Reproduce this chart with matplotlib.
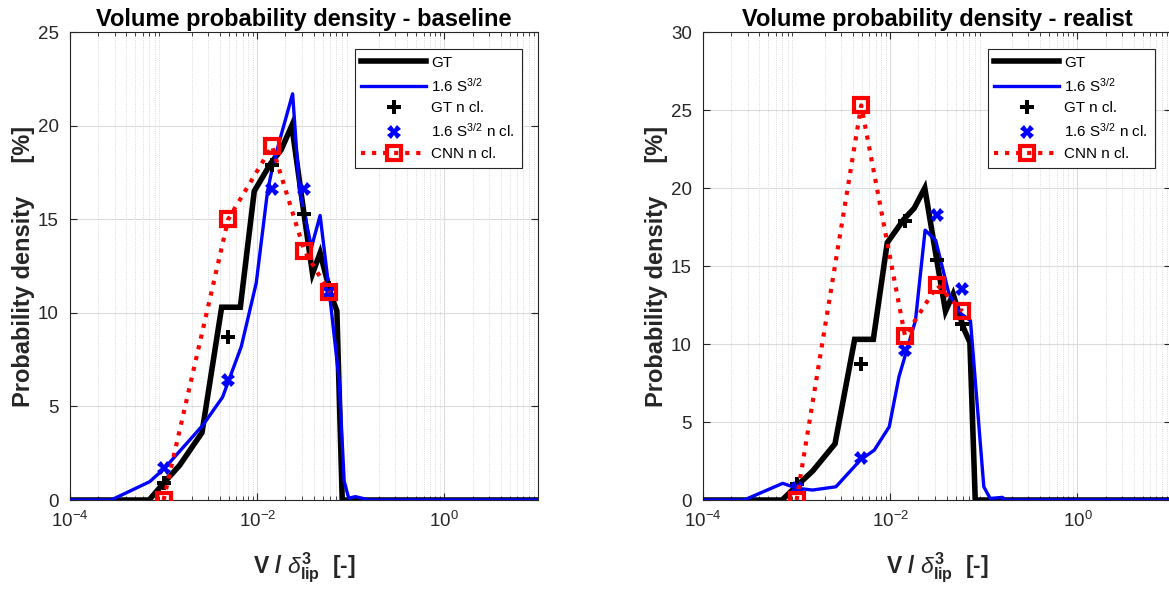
import numpy as np
import matplotlib
matplotlib.use("Agg")
import matplotlib.pyplot as plt
from matplotlib.ticker import LogLocator, NullFormatter

plt.rcParams["font.family"] = ["Liberation Sans", "DejaVu Sans"]
plt.rcParams["mathtext.fontset"] = "custom"
plt.rcParams["mathtext.rm"] = "Liberation Sans"
plt.rcParams["mathtext.it"] = "Liberation Sans:italic"
plt.rcParams["mathtext.bf"] = "Liberation Sans:bold"

# ----------------------------
# Data
# ----------------------------
# ground-truth volume pdf (same in both panels)
gt_v = [1e-4, 7.0e-4, 1.02e-3, 1.48e-3, 2.57e-3, 4.17e-3, 6.6e-3, 9.3e-3,
        1.4e-2, 1.8e-2, 2.34e-2, 3.16e-2, 3.9e-2, 4.7e-2, 6.1e-2, 7.1e-2,
        8.1e-2, 10.0]
gt_p = [0, 0, 0.95, 1.85, 3.6, 10.3, 10.3, 16.5, 18.0, 18.7, 20.0, 15.3,
        12.1, 13.2, 11.0, 10.1, 0, 0]

# 1.6 S^3/2 model - baseline
base_v = [1e-4, 2.75e-4, 7.1e-4, 1.02e-3, 2.63e-3, 4.27e-3, 6.76e-3, 9.77e-3,
          1.29e-2, 1.46e-2, 1.78e-2, 2.39e-2, 2.82e-2, 3.8e-2, 4.7e-2,
          5.9e-2, 7.5e-2, 8.5e-2, 9.5e-2, 1.12e-1, 1.58e-1, 10.0]
base_p = [0, 0, 0.98, 1.69, 4.0, 5.5, 8.2, 11.6, 16.5, 17.8, 19.4, 21.7,
          16.6, 13.5, 15.2, 11.1, 6.4, 1.0, 0.1, 0.18, 0, 0]

# 1.6 S^3/2 model - realist
real_v = [1e-4, 2.75e-4, 7.1e-4, 1.02e-3, 1.48e-3, 2.63e-3, 4.79e-3, 6.76e-3,
          9.77e-3, 1.24e-2, 1.86e-2, 2.36e-2, 3.06e-2, 4.25e-2, 5.66e-2,
          7.2e-2, 1.0e-1, 1.17e-1, 1.58e-1, 1.7e-1, 10.0]
real_p = [0, 0, 1.07, 0.75, 0.64, 0.85, 2.56, 3.2, 4.7, 7.9, 11.5, 17.3,
          16.65, 13.2, 11.96, 11.5, 0.85, 0.1, 0.17, 0, 0]

# number-of-classes samples
ncl_v = [1.0e-3, 4.9e-3, 1.44e-2, 3.2e-2, 5.9e-2]

gt_ncl = [0.89, 8.72, 17.9, 15.3, 11.3]
base_ncl = [1.69, 6.4, 16.6, 16.6, 11.1]
base_cnn = [0.0, 15.0, 18.9, 13.3, 11.1]

gt_ncl_r = [1.0, 8.75, 17.9, 15.4, 11.3]
real_ncl = [0.8, 2.67, 9.6, 18.25, 13.5]
real_cnn = [0.0, 25.3, 10.5, 13.77, 12.1]

panels = [
    ("baseline", base_v, base_p, gt_ncl, base_ncl, base_cnn, 25),
    ("realist", real_v, real_p, gt_ncl_r, real_ncl, real_cnn, 30),
]

fig = plt.figure(figsize=(11.69, 5.9), dpi=100)
positions = [[0.0599, 0.1525, 0.4003, 0.7932],
             [0.6014, 0.1525, 0.4003, 0.7932]]

txt = "#262626"

for pos, (name, sv, sp, gn, sn, cn, ymax) in zip(positions, panels):
    ax = fig.add_axes(pos)
    ax.plot(gt_v, gt_p, color="k", lw=4.0, label="GT", solid_joinstyle="miter", zorder=3)
    ax.plot(sv, sp, color="#0000ff", lw=2.4, label=r"1.6 S$^{3/2}$", zorder=4)
    ax.plot(ncl_v, gn, ls="none", marker="P", color="k", ms=10,
            markeredgewidth=0, label="GT n cl.", zorder=5)
    ax.plot(ncl_v, sn, ls="none", marker="X", color="#0000ff", ms=10,
            markeredgewidth=0, label=r"1.6 S$^{3/2}$ n cl.", zorder=5)
    ax.plot(ncl_v, cn, ls=":", color="#ff0000", lw=3.0, marker="s", ms=9.5,
            mfc="none", mec="#ff0000", mew=3, label="CNN n cl.", zorder=6)

    ax.set_xscale("log")
    ax.set_xlim(1e-4, 10)
    ax.set_ylim(0, ymax)
    ax.set_yticks(np.arange(0, ymax + 1, 5))
    ax.set_xticks([1e-4, 1e-2, 1e0])
    ax.xaxis.set_minor_locator(LogLocator(base=10, subs=np.arange(2, 10), numticks=20))
    ax.xaxis.set_minor_formatter(NullFormatter())

    ax.grid(True, which="major", color="#dcdcdc", lw=0.8)
    ax.grid(True, which="minor", axis="x", color="#d0d0d0", lw=0.6, ls=":")
    ax.set_axisbelow(True)

    ax.tick_params(which="both", direction="in", top=True, right=True,
                   colors=txt, labelsize=13.5, pad=8)
    ax.tick_params(which="major", length=5)
    ax.tick_params(which="minor", length=3)
    for s in ax.spines.values():
        s.set_color("#262626")
        s.set_linewidth(0.8)

    ax.set_title(f"Volume probability density - {name}", fontsize=17,
                 fontweight="bold", pad=4)
    ax.set_xlabel(r"V / $\delta^{\mathbf{3}}_{\mathbf{lip}}$  [-]", fontsize=16.5,
                  fontweight="bold", color=txt, labelpad=14)
    ax.set_ylabel("Probability density     [%]", fontsize=17, fontweight="bold",
                  color=txt, labelpad=2)

    leg = ax.legend(loc="upper right", bbox_to_anchor=(0.965, 0.964),
                    borderaxespad=0.0,
                    fontsize=11, handlelength=4.2, handletextpad=0.35,
                    labelspacing=0.45, borderpad=0.45, fancybox=False,
                    framealpha=1.0, edgecolor="#262626")
    leg.get_frame().set_linewidth(0.8)

fig.savefig("out.png", dpi=100)
